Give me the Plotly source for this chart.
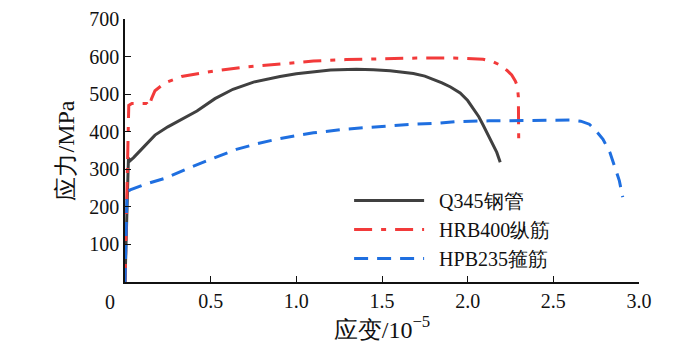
import plotly.graph_objects as go

# Q345 steel tube
q345_x = [0.0, 0.02, 0.03, 0.05, 0.10, 0.175, 0.25, 0.33, 0.42, 0.525, 0.63, 0.75, 0.905, 1.0, 1.10, 1.2, 1.35, 1.45, 1.547,
          1.62, 1.683, 1.75, 1.80, 1.85, 1.90, 1.956, 2.0, 2.033, 2.065, 2.09, 2.12, 2.15, 2.17, 2.19]
q345_y = [0, 330, 323, 331, 355, 391, 413, 433, 455, 488, 513, 532, 547, 554, 560, 564, 566, 565, 562,
          559, 555, 548, 540, 530, 519, 503, 483, 460, 440, 418, 392, 365, 345, 319]

# HRB400 longitudinal bar
hrb_x = [0.0, 0.018, 0.022, 0.04, 0.127, 0.14, 0.155, 0.175, 0.233, 0.33, 0.525, 0.7, 0.905, 1.1, 1.29, 1.5, 1.7,
         1.92, 2.0, 2.09, 2.15, 2.19, 2.23, 2.257, 2.278, 2.29, 2.296, 2.298, 2.298]
hrb_y = [0, 330, 470, 475, 475, 467, 488, 509, 530, 547, 562, 572, 581, 588, 592, 594, 596,
         596, 595, 593, 586, 577, 563, 551, 535, 522, 492, 430, 372]

# HPB235 stirrup
hpb_x = [0.0, 0.012, 0.03, 0.117, 0.233, 0.38, 0.525, 0.65, 0.77, 0.905, 1.1, 1.29, 1.5, 1.683, 1.84, 1.936, 2.125,
         2.42, 2.6, 2.66, 2.71, 2.75, 2.79, 2.83, 2.86, 2.885, 2.905]
hpb_y = [0, 240, 245, 260, 276, 305, 331, 353, 368, 382, 397, 407, 414, 420, 423, 427, 429,
         431, 431, 428, 420, 402, 380, 345, 306, 270, 226]

names = ["Q345钢管", "HRB400纵筋", "HPB235箍筋"]
colors = ["#404040", "#f23a3a", "#1f6fe0"]
dashes = ["solid", "18px,9px,5px,9px", "14px,9px"]

x_ticks = [0.5, 1.0, 1.5, 2.0, 2.5, 3.0]
y_ticks = [100, 200, 300, 400, 500, 600, 700]

FONT = "Liberation Serif, Times New Roman, serif"

fig = go.Figure()
for xs, ys, n, c, d in zip([q345_x, hrb_x, hpb_x], [q345_y, hrb_y, hpb_y], names, colors, dashes):
    fig.add_trace(go.Scatter(x=xs, y=ys, mode="lines", name="\u2002" + n,
                             line=dict(color=c, width=3, dash=d)))

fig.update_layout(
    width=700, height=347,
    margin=dict(l=125, r=61, t=8, b=63),
    paper_bgcolor="white", plot_bgcolor="white",
    font=dict(family=FONT, size=20, color="#111111"),
    showlegend=True,
    legend=dict(x=0.436, y=0.384, xanchor="left", yanchor="top",
                bgcolor="rgba(0,0,0,0)", font=dict(family=FONT, size=20),
                itemwidth=70, tracegroupgap=0),
    xaxis=dict(range=[0, 3.0], tickvals=x_ticks, tickformat=".1f",
               showline=True, linecolor="#111111", linewidth=1.5,
               ticks="inside", ticklen=6, tickcolor="#111111",
               tickfont=dict(family=FONT, size=20),
               showgrid=False, zeroline=False, ticklabeloverflow="allow",
               title=dict(text="应变/10<sup>−5</sup>", standoff=10)),
    yaxis=dict(range=[0, 700], tickvals=y_ticks,
               showline=True, linecolor="#111111", linewidth=1.5,
               ticks="inside", ticklen=6, tickcolor="#111111",
               tickfont=dict(family=FONT, size=20),
               showgrid=False, zeroline=False, ticklabeloverflow="allow",
               title=dict(text="应力/MPa", standoff=8)),
)
fig.add_annotation(x=0, y=0, xref="x", yref="y", text="0", showarrow=False,
                   xanchor="right", yanchor="top", xshift=-8, yshift=-7,
                   font=dict(family=FONT, size=20))

fig.write_html("out.html")
